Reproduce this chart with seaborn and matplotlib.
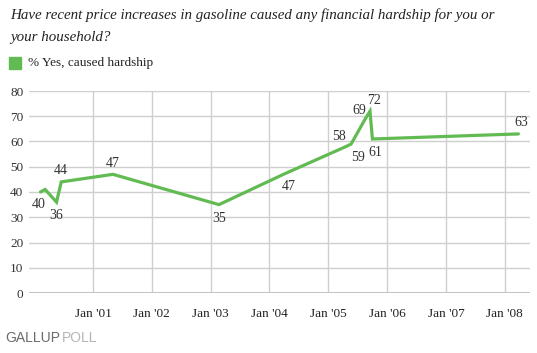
import matplotlib
matplotlib.use("Agg")
import matplotlib.pyplot as plt
import seaborn as sns
import pandas as pd

# ---- data ----
dates = ["2000-02-10", "2000-03-10", "2000-05-20", "2000-06-18", "2001-05-05",
         "2003-02-22", "2004-03-28", "2005-04-20", "2005-05-22", "2005-08-18",
         "2005-09-16", "2005-10-01", "2008-03-25"]
values = [40, 41, 36, 44, 47, 35, 47, 58, 59, 69, 72, 61, 63]
point_labels = ["40", "", "36", "44", "47", "35", "47", "58", "59", "69", "72", "61", "63"]
series_name = "% Yes, caused hardship"
y_ticks = [0, 10, 20, 30, 40, 50, 60, 70, 80]
x_tick_years = [2001, 2002, 2003, 2004, 2005, 2006, 2007, 2008]
x_tick_labels = ["Jan '01", "Jan '02", "Jan '03", "Jan '04", "Jan '05", "Jan '06", "Jan '07", "Jan '08"]
title = "Have recent price increases in gasoline caused any financial hardship for you or\nyour household?"

# label offsets in points (dx, dy)
label_offsets = [(-1, -9), (0, 0), (0, -10), (0, 8), (0, 8), (0, -10), (4, -9),
                 (-5, 7), (5, -10), (-4, 6), (3, 8), (2, -10), (2, 8)]

df = pd.DataFrame({"date": pd.to_datetime(dates), "value": values, "series": series_name})

sns.set_theme(style="white")
plt.rcParams["font.family"] = ["Liberation Serif", "DejaVu Serif"]

green = "#62BB52"
fig = plt.figure(figsize=(5.37, 3.53), dpi=100)
ax = fig.add_axes([29/537, 1-293/353, (530-29)/537, (293-91)/353])

sns.lineplot(data=df, x="date", y="value", color=green, linewidth=2.3, ax=ax,
             legend=False, solid_joinstyle="miter")

ax.set_ylim(0, 80)
ax.set_xlim(pd.Timestamp("1999-12-01"), pd.Timestamp("2008-06-05"))
ax.set_yticks(y_ticks)
ax.set_yticklabels([str(v) for v in y_ticks], fontsize=9.5, color="#333333")
xt = [pd.Timestamp(f"{y}-01-01") for y in x_tick_years]
ax.set_xticks(xt)
ax.set_xticklabels(x_tick_labels, fontsize=9.5, color="#222222")
ax.tick_params(axis="both", length=0, pad=4)
ax.tick_params(axis="x", pad=11)
ax.set_xlabel("")
ax.set_ylabel("")

for s in ax.spines.values():
    s.set_visible(False)
ax.grid(True, color="#CFCFCF", linewidth=1.0)
ax.set_axisbelow(True)
ax.axhline(0, color="#C4C4C4", linewidth=2.2, zorder=1)

for d, v, lab, (dx, dy) in zip(df["date"], values, point_labels, label_offsets):
    if lab:
        ax.annotate(lab, (d, v), xytext=(dx, dy), textcoords="offset points",
                    ha="center", va="center", fontsize=10, color="#333333")

fig.text(10/537, 1-26/353, title, fontsize=10.8, style="italic", color="#222222",
         va="center", ha="left", linespacing=1.9)
fig.patches.append(plt.Rectangle((9/537, 1-69/353), 12/537, 12/353,
                                 transform=fig.transFigure, color=green, figure=fig))
fig.text(28/537, 1-63/353, series_name, fontsize=9.5, color="#222222", va="center", ha="left")

fig.text(5/537, 1-338/353, "GALLUP", fontsize=10, color="#6A6A6A", va="center", ha="left",
         family=["Liberation Sans", "DejaVu Sans"])
fig.text(62/537, 1-338/353, "POLL", fontsize=10, color="#B5B5B5", va="center", ha="left",
         family=["Liberation Sans", "DejaVu Sans"])

fig.savefig("out.png", dpi=100)
